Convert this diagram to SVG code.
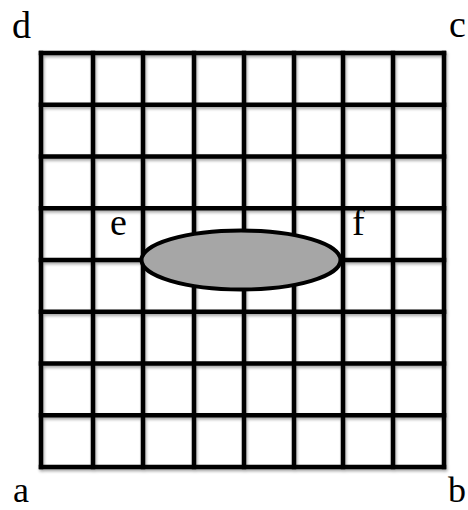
<svg xmlns="http://www.w3.org/2000/svg" width="468" height="510" viewBox="0 0 468 510">
<style>
.g{stroke:#000;stroke-width:4.5;fill:none;stroke-linecap:square}
.lbl{font-family:"Liberation Serif","Times New Roman",serif;font-size:38px;fill:#000}
.sm{font-size:36px}
</style>
<defs>
<filter id="sh" x="-5%" y="-5%" width="115%" height="115%">
<feGaussianBlur in="SourceAlpha" stdDeviation="1.5"/>
<feOffset dx="1" dy="2" result="b"/>
<feComponentTransfer><feFuncA type="linear" slope="0.35"/></feComponentTransfer>
<feMerge><feMergeNode/><feMergeNode in="SourceGraphic"/></feMerge>
</filter>
</defs>
<rect width="468" height="510" fill="#fff"/>
<g id="grid" class="g" filter="url(#sh)">
<path d="M41,53V467M93,53V467M143,53V467M194,53V467M244,53V467M294,53V467M343,53V467M393,53V467M444,53V467"/>
<path d="M41,53H444M41,104.75H444M41,156.5H444M41,208.25H444M41,260H444M41,311.75H444M41,363.5H444M41,415.25H444M41,467H444"/>
</g>
<g id="ellipse">
<ellipse cx="241" cy="260" rx="99.5" ry="29.5" fill="#a6a6a6" stroke="#000" stroke-width="4"/>
</g>
<g id="labels">
<text class="lbl" x="12" y="38">d</text>
<text class="lbl" x="449" y="37">c</text>
<text class="lbl sm" x="13" y="502">a</text>
<text class="lbl sm" x="448" y="502">b</text>
<text class="lbl" x="110" y="235">e</text>
<text class="lbl" x="352" y="235">f</text>
</g>
</svg>
